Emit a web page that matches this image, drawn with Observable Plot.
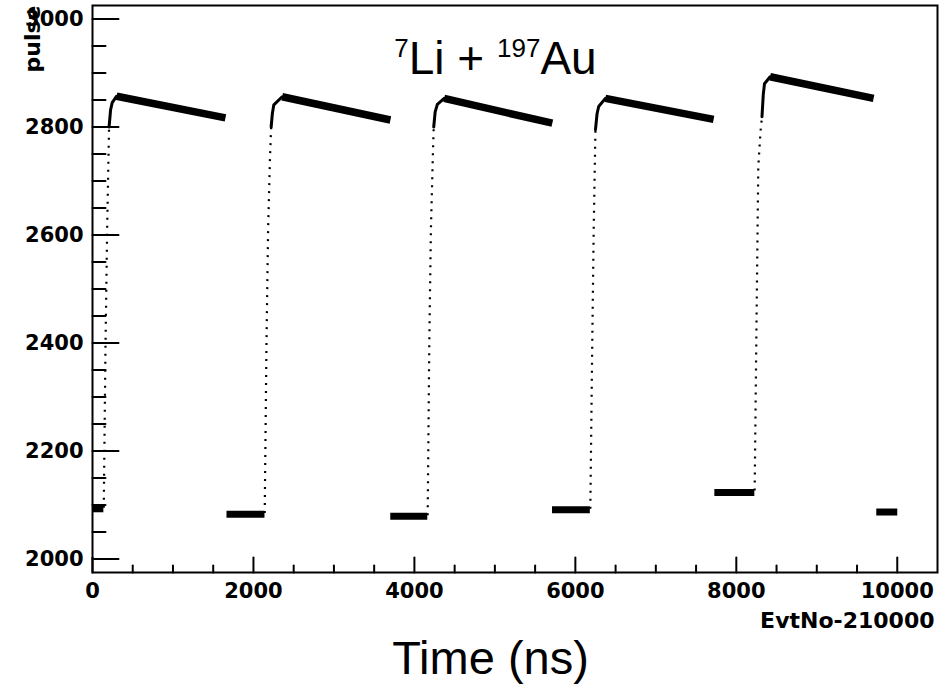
<!DOCTYPE html>
<html><head><meta charset="utf-8">
<script src="https://cdn.jsdelivr.net/npm/d3@7"></script>
<script src="https://cdn.jsdelivr.net/npm/@observablehq/plot@0.6"></script>
<style>body{margin:0;background:#fff} svg{display:block}</style>
</head><body><div id="chart"></div>
<script>
// Axis ticks
const xTicks = [0, 2000, 4000, 6000, 8000, 10000];
const xMinorTicks = [500, 1000, 1500, 2500, 3000, 3500, 4500, 5000, 5500, 6500, 7000, 7500, 8500, 9000, 9500];
const yTicks = [2000, 2200, 2400, 2600, 2800, 3000];
const yMinorTicks = [2050, 2100, 2150, 2250, 2300, 2350, 2450, 2500, 2550, 2650, 2700, 2750, 2850, 2900, 2950];

// Baseline segments (before each pulse)
const baseStartEvt = [0, 1665, 3700, 5710, 7727, 9739];
const baseEndEvt   = [135, 2137, 4160, 6180, 8224, 10000];
const baseLevel    = [2093, 2083, 2079, 2091, 2123, 2087];

// Rising edges (sparse, dotted)
const riseEvt = [
  [140, 162, 182, 198, 206],
  [2140, 2162, 2182, 2205, 2220],
  [4165, 4185, 4205, 4228, 4240],
  [6186, 6210, 6228, 6243, 6250],
  [8228, 8252, 8273, 8300, 8319]
];
const riseLevel = [
  [2095, 2400, 2610, 2740, 2800],
  [2085, 2400, 2610, 2740, 2800],
  [2081, 2400, 2610, 2740, 2800],
  [2093, 2400, 2610, 2740, 2795],
  [2127, 2450, 2726, 2790, 2819]
];

// Knee up to the peak
const kneeEvt = [
  [206, 225, 245, 300],
  [2220, 2235, 2253, 2357],
  [4240, 4258, 4285, 4370],
  [6250, 6270, 6290, 6373],
  [8319, 8335, 8350, 8420]
];
const kneeLevel = [
  [2800, 2832, 2845, 2857],
  [2800, 2825, 2841, 2856],
  [2800, 2828, 2842, 2853],
  [2795, 2825, 2838, 2853],
  [2819, 2860, 2880, 2893]
];

// Decay of the flat top
const peakEvt   = [300, 2357, 4370, 6373, 8420];
const peakLevel = [2857, 2856, 2853, 2853, 2893];
const endEvt    = [1652, 3702, 5714, 7718, 9706];
const endLevel  = [2817, 2813, 2807, 2814, 2853];

const riseRows = riseEvt.flatMap((a, i) => a.map((e, j) => ({pulse: i, evt: e, level: riseLevel[i][j]})));
const kneeRows = kneeEvt.flatMap((a, i) => a.map((e, j) => ({pulse: i, evt: e, level: kneeLevel[i][j]})));
const baseIdx = baseStartEvt.map((_, i) => i);
const decayIdx = peakEvt.map((_, i) => i);

const tickShape = {draw(context, l) { context.moveTo(0, 0); context.lineTo(0, -l); }};
const numFont = "DejaVu Sans, Liberation Sans, Arial, sans-serif";

const plot = Plot.plot({
  width: 940,
  height: 684,
  marginLeft: 92,
  marginRight: 3,
  marginTop: 5,
  marginBottom: 112,
  style: {background: "white", overflow: "visible"},
  x: {domain: [0, 10500]},
  y: {domain: [1975, 3025]},
  marks: [
    Plot.frame({stroke: "black", strokeWidth: 2}),
    // data
    Plot.link(baseIdx, {x1: i => baseStartEvt[i], x2: i => baseEndEvt[i], y1: i => baseLevel[i], y2: i => baseLevel[i], stroke: "black", strokeWidth: 7}),
    Plot.line(riseRows, {x: "evt", y: "level", z: "pulse", stroke: "black", strokeWidth: 2.2, strokeDasharray: "2,6", strokeLinecap: "butt"}),
    Plot.line(kneeRows, {x: "evt", y: "level", z: "pulse", stroke: "black", strokeWidth: 3}),
    Plot.link(decayIdx, {x1: i => peakEvt[i], x2: i => endEvt[i], y1: i => peakLevel[i], y2: i => endLevel[i], stroke: "black", strokeWidth: 7.5}),
    // inward ticks
    Plot.vector(yTicks, {y: d => d, frameAnchor: "left", length: 26, rotate: 90, anchor: "start", shape: tickShape, stroke: "black", strokeWidth: 2}),
    Plot.vector(yMinorTicks, {y: d => d, frameAnchor: "left", length: 13, rotate: 90, anchor: "start", shape: tickShape, stroke: "black", strokeWidth: 2}),
    Plot.vector(xTicks, {x: d => d, frameAnchor: "bottom", length: 15, rotate: 0, anchor: "start", shape: tickShape, stroke: "black", strokeWidth: 2}),
    Plot.vector(xMinorTicks, {x: d => d, frameAnchor: "bottom", length: 7, rotate: 0, anchor: "start", shape: tickShape, stroke: "black", strokeWidth: 2}),
    // tick labels
    Plot.axisY(yTicks, {tickSize: 0, tickPadding: 9, tickFormat: "d", fontSize: 21, fontWeight: "bold", fontFamily: numFont, label: null, fill: "black"}),
    Plot.axisX(xTicks, {tickSize: 0, tickPadding: 11, tickFormat: "d", fontSize: 21, fontWeight: "bold", fontFamily: numFont, label: null, fill: "black"}),
    // axis titles
    Plot.text(["pulse"], {text: d => d, frameAnchor: "top-left", rotate: -90, textAnchor: "end", dx: -68, dy: 0, fontSize: 22, fontWeight: "bold", fontFamily: numFont, fill: "black"}),
    Plot.text(["EvtNo-210000"], {text: d => d, frameAnchor: "bottom-right", textAnchor: "end", lineAnchor: "bottom", dx: -3, dy: 55, fontSize: 22, fontWeight: "bold", fontFamily: numFont, fill: "black"}),
    Plot.text(["Time (ns)"], {text: d => d, frameAnchor: "bottom", textAnchor: "middle", lineAnchor: "bottom", dx: -24.5, dy: 101, fontSize: 47, fontFamily: "Liberation Sans, Arial, sans-serif", fill: "black"})
  ]
});

// Title with superscripts
const svg = d3.select(plot);
const title = svg.append("text")
  .attr("x", 495.5).attr("y", 74)
  .attr("text-anchor", "middle")
  .attr("font-family", "Liberation Sans, Arial, sans-serif")
  .attr("font-size", 46)
  .attr("fill", "black");
title.append("tspan").attr("font-size", 26).attr("dy", -17).text("7");
title.append("tspan").attr("dy", 17).text("Li + ");
title.append("tspan").attr("font-size", 26).attr("dy", -17).text("197");
title.append("tspan").attr("dy", 17).text("Au");

document.getElementById("chart").appendChild(plot);
</script>
</body></html>
